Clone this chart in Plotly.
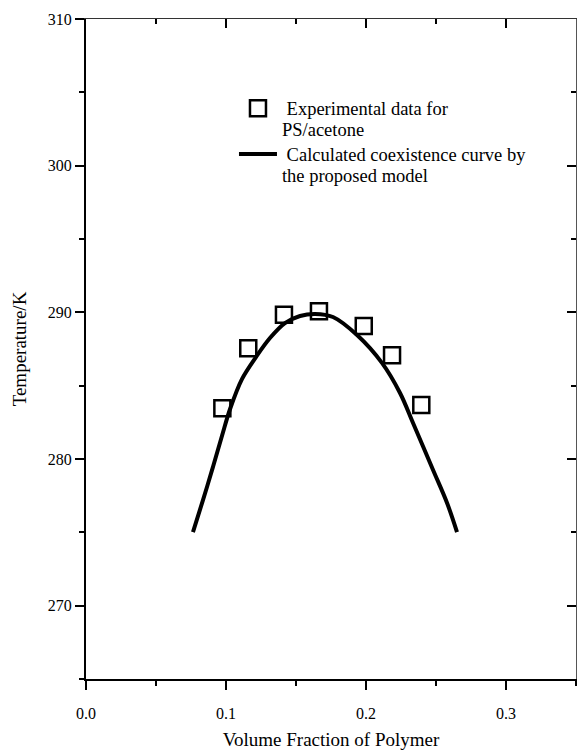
import plotly.graph_objects as go

# Experimental data (PS/acetone)
exp_phi = [0.0974, 0.1159, 0.1414, 0.1664, 0.1984, 0.2186, 0.2395]
exp_T = [283.46, 287.55, 289.84, 290.07, 289.07, 287.07, 283.68]

# Calculated coexistence curve
calc_phi = [0.0764, 0.0836, 0.0907, 0.0971, 0.1029, 0.1114, 0.1214, 0.1314, 0.1421,
            0.1529, 0.1636, 0.1764, 0.1936, 0.2114, 0.2243, 0.2336, 0.2479, 0.2579, 0.2650]
calc_T = [275.02, 277.21, 279.46, 281.57, 283.41, 285.45, 286.95, 288.25, 289.27,
          289.75, 289.89, 289.68, 288.45, 286.55, 284.50, 282.45, 279.25, 277.00, 275.02]

x_ticks = [0.0, 0.1, 0.2, 0.3]
x_ticktext = ["0.0", "0.1", "0.2", "0.3"]
y_ticks = [270, 280, 290, 300, 310]

legend_exp = ["\u00a0Experimental data for", "PS/acetone"]
legend_calc = ["\u00a0Calculated coexistence curve by", "the proposed model"]

FONT = "Liberation Serif"


def legend_label(lines, size=18.5):
    return "<br>".join(f"<span style='font-size:{size}px'>{t}</span>" for t in lines)


fig = go.Figure()
fig.add_trace(go.Scatter(
    x=exp_phi, y=exp_T, mode="markers",
    name=legend_label(legend_exp),
    marker=dict(symbol="square-open", size=16, color="black", line=dict(width=2.5, color="black")),
))
fig.add_trace(go.Scatter(
    x=calc_phi, y=calc_T, mode="lines", line_shape="spline",
    name=legend_label(legend_calc),
    line=dict(color="black", width=4, smoothing=1.0),
))
# empty trace to activate the mirrored (top/right) axes
fig.add_trace(go.Scatter(x=[], y=[], xaxis="x2", yaxis="y2", showlegend=False, hoverinfo="skip"))

fig.update_layout(
    width=577, height=754,
    margin=dict(l=86, r=1, t=19, b=75),
    paper_bgcolor="white", plot_bgcolor="white",
    font=dict(family=FONT, size=16, color="black"),
    showlegend=True,
    legend=dict(x=0.302, y=0.891, xanchor="left", yanchor="top", itemwidth=38,
                bgcolor="rgba(0,0,0,0)", valign="top", tracegroupgap=0,
                font=dict(family=FONT, size=16.5, color="black")),
    xaxis=dict(range=[0, 0.35], showgrid=False, zeroline=False,
               showline=True, linewidth=2, linecolor="black",
               ticks="outside", ticklen=9, tickwidth=2, tickcolor="black",
               tickvals=x_ticks, ticktext=x_ticktext, ticklabelstandoff=10,
               minor=dict(ticks="outside", dtick=0.05, tick0=0, ticklen=5, tickwidth=2, tickcolor="black"),
               tickfont=dict(family=FONT, size=16),
               title=dict(text="Volume Fraction of Polymer", font=dict(family=FONT, size=19), standoff=11)),
    yaxis=dict(range=[265, 310], showgrid=False, zeroline=False,
               showline=True, linewidth=2, linecolor="black",
               ticks="outside", ticklen=9, tickwidth=2, tickcolor="black",
               tickvals=y_ticks,
               minor=dict(ticks="outside", dtick=5, tick0=265, ticklen=5, tickwidth=2, tickcolor="black"),
               tickfont=dict(family=FONT, size=16),
               title=dict(text="Temperature/K", font=dict(family=FONT, size=19), standoff=16)),
    xaxis2=dict(overlaying="x", side="top", anchor="y", matches="x", range=[0, 0.35],
                showgrid=False, zeroline=False, showline=True, linewidth=1, linecolor="#333",
                ticks="inside", ticklen=9, tickwidth=1.5, tickcolor="black",
                tickvals=x_ticks, showticklabels=False,
                minor=dict(ticks="inside", dtick=0.05, tick0=0, ticklen=5, tickwidth=1.5, tickcolor="black")),
    yaxis2=dict(overlaying="y", side="right", anchor="x", matches="y", range=[265, 310],
                showgrid=False, zeroline=False, showline=True, linewidth=1, linecolor="#555",
                ticks="inside", ticklen=9, tickwidth=1.5, tickcolor="black",
                tickvals=y_ticks, showticklabels=False,
                minor=dict(ticks="inside", dtick=5, tick0=265, ticklen=5, tickwidth=1.5, tickcolor="black")),
)

fig.write_html(
    "out.html",
    config={"displayModeBar": False},
    post_script="document.documentElement.style.margin='0';document.body.style.margin='0';"
                "document.body.style.padding='0';document.body.style.overflow='hidden';",
)
